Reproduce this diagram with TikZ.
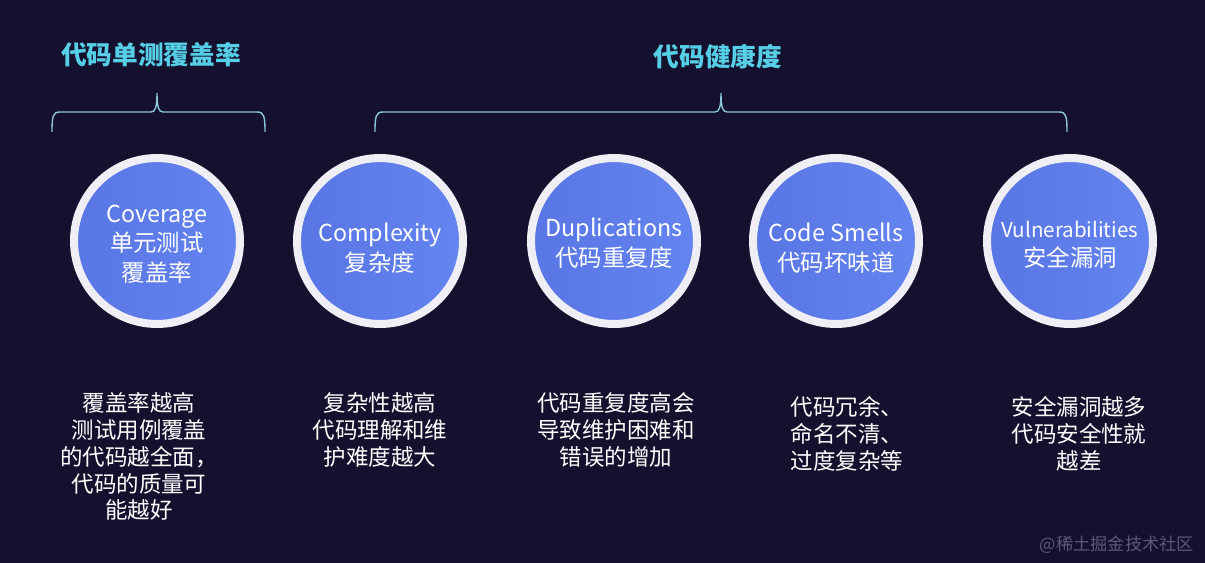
\documentclass[tikz,border=0pt]{standalone}
\usepackage{fontspec}
\setmainfont{Noto Sans CJK SC}
\usepackage{xcolor}
\usepackage{tikz}
\definecolor{bgcolor}{RGB}{20,16,46}
\definecolor{titlecolor}{RGB}{86,206,230}
\definecolor{bracecolor}{RGB}{140,196,216}
\definecolor{ringcolor}{RGB}{238,238,244}
\definecolor{bluedark}{RGB}{88,118,228}
\definecolor{bluelight}{RGB}{100,132,240}
\definecolor{markcolor}{RGB}{92,88,118}

\begin{document}
\begin{tikzpicture}[
    x=0.02cm, y=-0.02cm,
    title/.style={text=titlecolor, inner sep=0pt, font=\fontsize{14.6}{17}\selectfont\bfseries},
    metric/.style={circle, draw=ringcolor, line width=0.16cm, left color=bluedark, right color=bluelight, minimum size=3.32cm, inner sep=0pt},
    mtext/.style={inner sep=0pt, align=center, text=white, font=\fontsize{13.3}{16.8}\selectfont, yshift=-#1*0.02cm},
    desc/.style={anchor=north, inner sep=0pt, align=center, text=white, font=\fontsize{12.8}{15.3}\selectfont},
    bracket/.style={draw=bracecolor, line width=0.8pt}
]
    \fill[bgcolor] (0,0) rectangle (1205,563);
    \useasboundingbox (0,0) rectangle (1205,563);

    % Titles
    \node[title] (covtitle) at (151,55) {代码单测覆盖率};
    \node[title] (healthtitle) at (718,57) {代码健康度};

    % Braces
    \draw[bracket] (52,132) .. controls (52,116) and (53,112) .. (60,112) -- (151,112)
        .. controls (155,112) and (157,108) .. (157,93)
        .. controls (157,108) and (159,112) .. (163,112) -- (257,112)
        .. controls (264,112) and (265,116) .. (265,132);
    \draw[bracket] (375,132) .. controls (375,116) and (376,112) .. (383,112) -- (715,112)
        .. controls (719,112) and (721,108) .. (721,93)
        .. controls (721,108) and (723,112) .. (727,112) -- (1059,112)
        .. controls (1066,112) and (1067,116) .. (1067,132);

    % Metrics
    \node[metric, label={[mtext=3]center:{Coverage\\单元测试\\覆盖率}}] (cov) at (157,241) {};
    \node[metric, label={[mtext=7]center:{Complexity\\复杂度}}] (cplx) at (380,241) {};
    \node[metric, label={[mtext=2]center:{Duplications\\代码重复度}}] (dup) at (614,241) {};
    \node[metric, label={[mtext=7]center:{Code Smells\\代码坏味道}}] (smell) at (836,241) {};
    \node[metric, label={[mtext=4]center:{{\fontsize{11.7}{16.8}\selectfont Vulnerabilities}\\安全漏洞}}] (vuln) at (1070,241) {};

    % Descriptions
    \node[desc] (covdesc) at (139,392) {覆盖率越高\\测试用例覆盖\\的代码越全面，\\代码的质量可\\能越好};
    \node[desc] (cplxdesc) at (380,392) {复杂性越高\\代码理解和维\\护难度越大};
    \node[desc] (dupdesc) at (616,392) {代码重复度高会\\导致维护困难和\\错误的增加};
    \node[desc] (smelldesc) at (847,396) {代码冗余、\\命名不清、\\过度复杂等};
    \node[desc] (vulndesc) at (1079,396) {安全漏洞越多\\代码安全性就\\越差};

    % Watermark
    \node[text=markcolor, inner sep=0pt, font=\fontsize{9.8}{12}\selectfont] (mark) at (1117,545) {@稀土掘金技术社区};
\end{tikzpicture}
\end{document}
